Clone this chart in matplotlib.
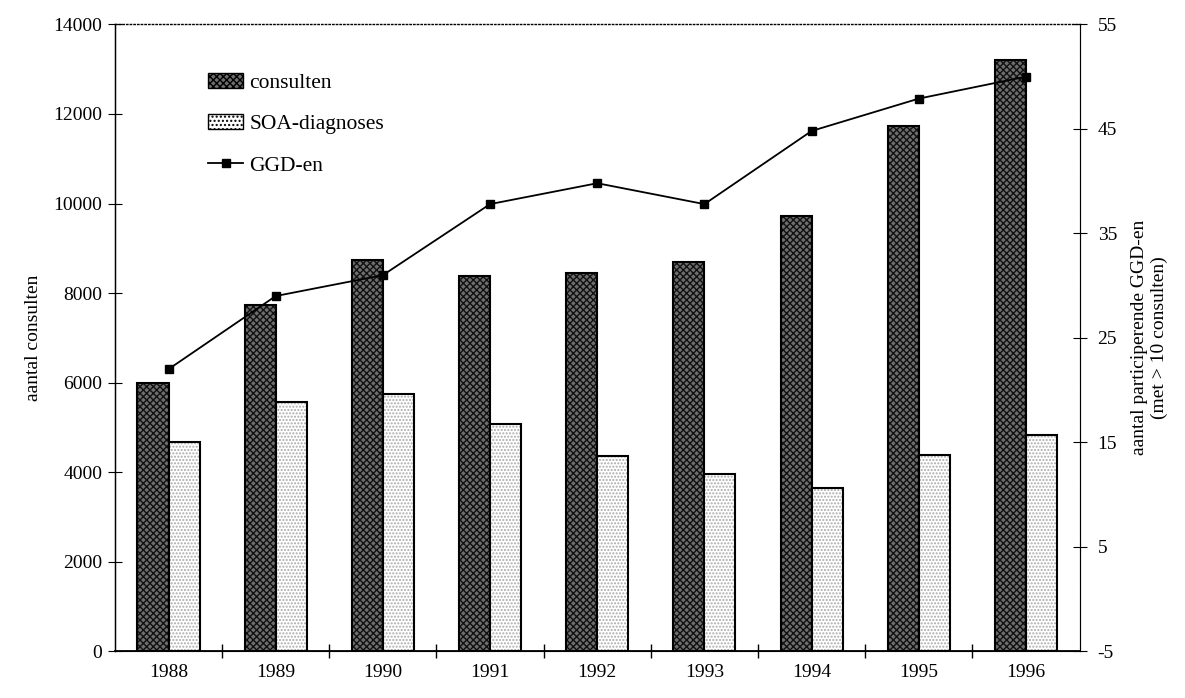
import numpy as np
import matplotlib
matplotlib.use("Agg")
import matplotlib.pyplot as plt
from matplotlib.patches import Patch
from matplotlib.lines import Line2D

plt.rcParams['font.family'] = ['Liberation Serif', 'DejaVu Serif']
plt.rcParams['axes.unicode_minus'] = False

years = ['1988', '1989', '1990', '1991', '1992', '1993', '1994', '1995', '1996']
consulten = [5980, 7740, 8740, 8380, 8450, 8700, 9730, 11730, 13200]
soa = [4670, 5570, 5740, 5085, 4360, 3950, 3650, 4390, 4840]
ggd = [22, 29, 31, 37.8, 39.8, 37.8, 44.8, 47.9, 50]

x = np.arange(len(years))
w = 0.29

fig = plt.figure(figsize=(11.85, 6.98), dpi=100)
fig.set_facecolor('white')
ax = fig.add_axes([0.097, 0.067, 0.814, 0.898])

# consulten: dark checker
ax.bar(x - w / 2, consulten, w, color='#6e6e6e', edgecolor='#111111', hatch='xxxxx', linewidth=0)
ax.bar(x - w / 2, consulten, w, fill=False, edgecolor='black', linewidth=1.5)
# SOA-diagnoses: light stipple
ax.bar(x + w / 2, soa, w, color='white', edgecolor='#aaaaaa', hatch='.....', linewidth=0)
ax.bar(x + w / 2, soa, w, fill=False, edgecolor='black', linewidth=1.5)

ax.set_xlim(-0.5, len(years) - 0.5)
ax.set_ylim(0, 14000)
ax.set_yticks(np.arange(0, 14001, 2000))
ax.set_xticks(x)
ax.set_xticklabels(years)
ax.set_xticks(np.arange(0.5, len(years) - 0.5, 1), minor=True)
ax.tick_params(axis='x', which='major', length=0, pad=9, labelsize=14)
ax.tick_params(axis='x', which='minor', direction='inout', length=10, width=1)
ax.tick_params(axis='y', direction='inout', length=10, width=0.8, labelsize=14, pad=4)
ax.set_ylabel('aantal consulten', fontsize=14, labelpad=8)

ax.spines['top'].set_linestyle(':')
ax.spines['top'].set_linewidth(1)
ax.spines['left'].set_linewidth(1)
ax.spines['bottom'].set_linewidth(1.3)

ax2 = ax.twinx()
ax2.plot(x, ggd, color='black', linewidth=1.3, marker='s', markersize=5.5)
ax2.set_ylim(-5, 55)
ax2.set_yticks(np.arange(-5, 56, 10))
ax2.tick_params(axis='y', direction='inout', length=10, width=0.8, labelsize=14, pad=8)
ax2.set_ylabel('aantal participerende GGD-en\n(met > 10 consulten)', fontsize=14, labelpad=10)
ax2.spines['right'].set_linestyle(':')
ax2.spines['top'].set_visible(False)

handles = [
    Patch(facecolor='#6e6e6e', edgecolor='black', hatch='xxxxx', linewidth=1),
    Patch(facecolor='white', edgecolor='black', hatch='....', linewidth=1),
    Line2D([0], [0], color='black', linewidth=1.3, marker='s', markersize=5.5),
]
ax.legend(handles, ['consulten', 'SOA-diagnoses', 'GGD-en'], loc='upper left',
          bbox_to_anchor=(0.088, 0.937), frameon=False, fontsize=15.5,
          handlelength=1.6, handletextpad=0.3, labelspacing=1.0, borderaxespad=0)

fig.savefig('out.png', dpi=100)
